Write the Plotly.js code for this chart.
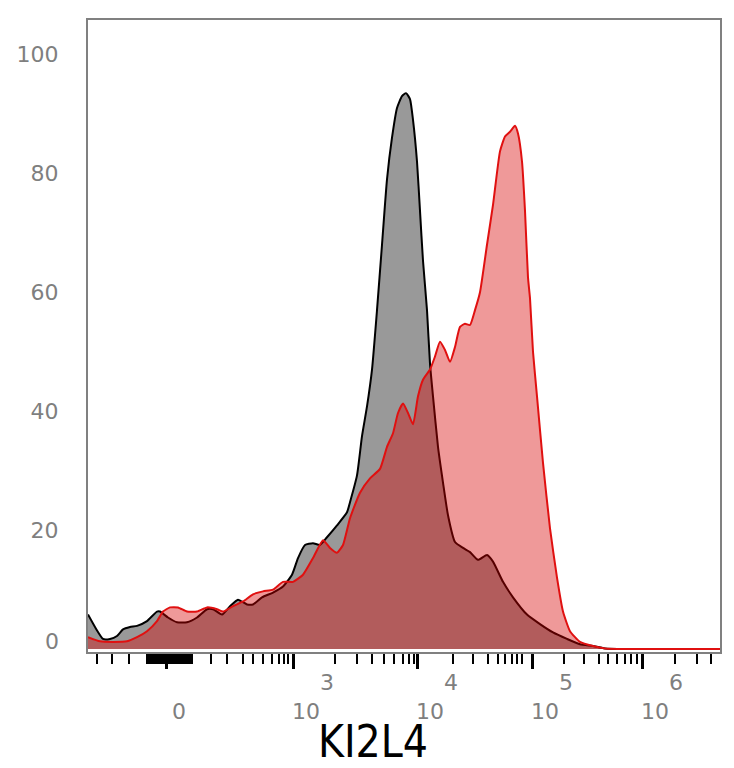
<!DOCTYPE html>
<html>
<head>
<meta charset="utf-8">
<script src="https://cdn.plot.ly/plotly-3.0.1.min.js"></script>
<style>
  html, body { margin: 0; padding: 0; background: #ffffff; }
  #chart { width: 734px; height: 768px; }
</style>
</head>
<body>
<div id="chart"></div>
<script>
// Display channels of the biexponential KI2L4 axis (0 = left edge of the plot)
const controlChannel = [0,7,15,22,29,35,42,49,59,69,72,80,89,99,109,119,125,134,142,150,159,165,174,185,195,204,210,217,225,232,239,249,259,262,269,274,279,284,289,294,299,304,309,314,318,322,325,329,332,335,339,342,345,350,355,360,367,375,382,390,399,405,415,425,439,452,465,479,492,505,517,632];
const controlCount = [5.8,3.7,1.7,1.7,2.2,3.3,3.7,3.9,4.7,6.3,6.3,5.3,4.5,4.5,5.3,6.7,6.7,5.8,7.2,8.3,7.5,7.5,8.7,9.5,10.5,12.5,15.3,17.5,17.8,17.5,18.8,20.8,23,24.7,29.2,35.8,40.8,47,57,68,79,86,91,93,93.5,92.5,89,82,73.7,65.3,57,48,42.5,34,28,22.5,18,17,16.3,15,15.8,14.7,11.3,8.7,5.8,4.2,2.8,1.7,0.8,0.5,0.1,0];

const stainedChannel = [0,12,25,39,49,59,69,75,82,90,99,109,119,129,135,145,155,165,175,185,195,205,215,225,235,242,249,255,262,272,282,292,299,305,310,315,320,325,330,335,342,347,352,357,362,367,372,377,382,387,392,399,405,412,417,422,427,430,434,437,440,442,445,449,455,462,469,475,482,492,505,517,632];
const stainedCount = [2,1.3,1.2,1.3,2,3,4.7,6.3,7,7,6.3,6.3,7,6.7,6.3,7.2,8,9.2,9.7,10,11.3,11.3,12.5,15.3,18.3,17,16.2,17.5,22,26.3,28.7,30.3,34,36.3,39.7,41.3,39.7,37.8,42.5,45.3,47,49.2,51.7,50.3,48.3,50.8,54.2,54.7,54.5,57,60,68,74.7,83.7,86.2,87,88,86.7,82,73.7,62.5,59,50,42.5,31.3,20.3,12,6.3,3,1.2,0.5,0.1,0];

// Axis ticks (channel positions of the decade marks); exponent drawn on the line above "10"
const majorTickChannels = [78, 205, 329, 444, 554];
const majorTickLabels = ["&nbsp;<br>0", "&nbsp;&nbsp;&nbsp;&nbsp;&nbsp;&nbsp;3<br>10", "&nbsp;&nbsp;&nbsp;&nbsp;&nbsp;&nbsp;4<br>10", "&nbsp;&nbsp;&nbsp;&nbsp;&nbsp;&nbsp;5<br>10", "&nbsp;&nbsp;&nbsp;&nbsp;&nbsp;&nbsp;6<br>10"];
const nearZeroTicks = [];
for (let c = 59; c <= 104; c += 1) nearZeroTicks.push(c);
const minorTickChannels = [9, 24, 41].concat(nearZeroTicks, [123,139,155,165,175,184,191,196,200, 247,269,284,296,306,315,321,326, 365,385,400,410,417,424,429,434, 476,496,511,520,529,537,543,549, 587,609,623]);
const yTickValues = [20, 40, 60, 80, 100];
const yTickLabels = ["20", "40", "60", "80", "100"];
const xTitle = "KI2L4";

const traces = [
  {
    x: controlChannel, y: controlCount, type: "scatter", mode: "lines",
    fill: "tozeroy", fillcolor: "#999999",
    line: { color: "#000000", width: 2, shape: "spline", smoothing: 0.5 },
    hoverinfo: "skip", showlegend: false
  },
  {
    x: stainedChannel, y: stainedCount, type: "scatter", mode: "lines",
    fill: "tozeroy", fillcolor: "rgba(215,0,0,0.4)",
    line: { color: "#e01010", width: 2, shape: "spline", smoothing: 0.5 },
    hoverinfo: "skip", showlegend: false
  }
];

const tickFont = { family: "DejaVu Sans, Verdana, sans-serif", size: 22, color: "#7f7f7f" };

const layout = {
  width: 734, height: 768,
  margin: { l: 88, r: 14, t: 20, b: 116 },
  paper_bgcolor: "#ffffff", plot_bgcolor: "#ffffff",
  showlegend: false,
  xaxis: {
    range: [0, 632], showgrid: false, zeroline: false,
    showline: true, mirror: true, linecolor: "#808080", linewidth: 2,
    tickmode: "array", tickvals: majorTickChannels, ticktext: majorTickLabels,
    ticks: "outside", ticklen: 15, tickwidth: 3, tickcolor: "#000000",
    tickfont: tickFont, ticklabelstandoff: -5, ticklabelshift: 13,
    minor: { tickmode: "array", tickvals: minorTickChannels, ticks: "outside", ticklen: 10, tickwidth: 1.3, tickcolor: "#000000", showgrid: false }
  },
  yaxis: {
    range: [-0.5, 105.8], showgrid: false, zeroline: false,
    showline: true, mirror: true, linecolor: "#808080", linewidth: 2,
    tickmode: "array", tickvals: yTickValues, ticktext: yTickLabels,
    ticks: "", tickfont: tickFont, ticklabelstandoff: 23
  },
  annotations: [
    { xref: "paper", yref: "y", x: 0, y: 0, xanchor: "right", yanchor: "middle",
      xshift: -27, yshift: 8, text: "0", showarrow: false, font: tickFont },
    { xref: "paper", yref: "paper", x: 0.451, y: -0.142, xanchor: "center", yanchor: "middle",
      text: xTitle, showarrow: false,
      font: { family: "Liberation Sans Narrow, DejaVu Sans Condensed, Arial Narrow, sans-serif", size: 44, color: "#000000" } }
  ]
};

Plotly.newPlot("chart", traces, layout, { displayModeBar: false, staticPlot: true });
</script>
</body>
</html>
